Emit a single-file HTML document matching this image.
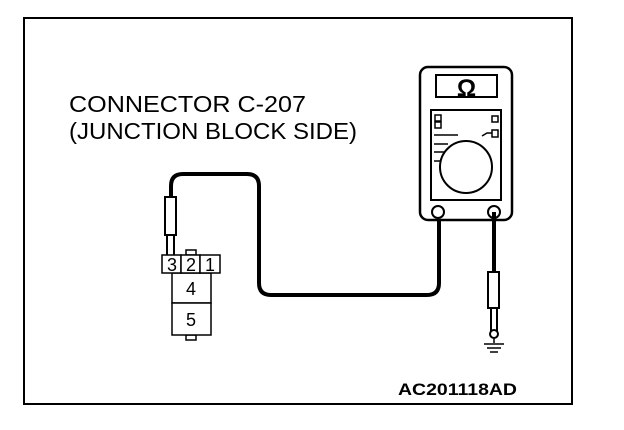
<!DOCTYPE html>
<html><head><style>
html,body{margin:0;padding:0;background:#fff;}
svg{display:block;}
</style></head><body>
<svg width="624" height="430" viewBox="0 0 624 430" xmlns="http://www.w3.org/2000/svg">
<rect x="24" y="18" width="548" height="386" fill="none" stroke="#000" stroke-width="2"/>
<g font-family="Liberation Sans, sans-serif" font-size="23" fill="#000">
<text x="69" y="112" textLength="237" lengthAdjust="spacingAndGlyphs">CONNECTOR C-207</text>
<text x="69" y="139" textLength="288" lengthAdjust="spacingAndGlyphs">(JUNCTION BLOCK SIDE)</text>
</g>
<text x="398" y="395" font-family="Liberation Sans, sans-serif" font-size="17" font-weight="bold" textLength="119" lengthAdjust="spacingAndGlyphs">AC201118AD</text>
<!-- wire -->
<path d="M171,198 L171,186 Q171,174 183,174 L247,174 Q259,174 259,186 L259,283 Q259,295 271,295 L427,295 Q439,295 439,283 L439,212" fill="none" stroke="#000" stroke-width="4"/>
<!-- left probe -->
<rect x="165" y="197" width="11" height="38" fill="#fff" stroke="#000" stroke-width="2"/>
<rect x="167" y="235" width="7" height="23" fill="#fff" stroke="#000" stroke-width="2"/>
<!-- connector -->
<g fill="#fff" stroke="#000" stroke-width="1.5">
<rect x="186" y="250" width="10" height="5"/>
<rect x="186" y="335" width="10" height="5"/>
<rect x="172" y="273" width="39" height="30"/>
<rect x="172" y="303" width="39" height="32"/>
<rect x="162" y="255" width="19" height="18"/>
<rect x="181" y="255" width="19" height="18"/>
<rect x="200" y="255" width="20" height="18"/>
</g>
<g font-family="Liberation Sans, sans-serif" font-size="18" text-anchor="middle">
<text x="172" y="271">3</text><text x="191" y="271">2</text><text x="210" y="271">1</text>
<text x="191" y="295">4</text><text x="191" y="326">5</text>
</g>
<!-- meter -->
<rect x="420" y="67" width="92" height="153" rx="8" fill="#fff" stroke="#000" stroke-width="2.5"/>
<rect x="436" y="75" width="61" height="22" fill="#fff" stroke="#000" stroke-width="2"/>
<text x="466.5" y="96" font-family="Liberation Sans, sans-serif" font-size="24" font-weight="bold" text-anchor="middle">Ω</text>
<rect x="431" y="110" width="70" height="90" fill="#fff" stroke="#000" stroke-width="2"/>
<rect x="435" y="115" width="6" height="6" fill="none" stroke="#000" stroke-width="1.5"/>
<rect x="435" y="122" width="6" height="6" fill="none" stroke="#000" stroke-width="1.5"/>
<rect x="492" y="116" width="6" height="6" fill="none" stroke="#000" stroke-width="1.5"/>
<rect x="492" y="130" width="6" height="7" fill="none" stroke="#000" stroke-width="1.5"/>
<path d="M434,135 H458 M434,144 H448 M434,152 H445 M434,161 H441 M482,136 L487,133 H492" stroke="#000" stroke-width="1.5" fill="none"/>
<circle cx="466" cy="167" r="26" fill="#fff" stroke="#000" stroke-width="2"/>
<circle cx="438" cy="212" r="6" fill="#fff" stroke="#000" stroke-width="2"/>
<circle cx="494" cy="212" r="6" fill="#fff" stroke="#000" stroke-width="2"/>
<!-- right lead -->
<line x1="494" y1="212" x2="494" y2="272" stroke="#000" stroke-width="4"/>
<rect x="488" y="272" width="11" height="36" fill="#fff" stroke="#000" stroke-width="2"/>
<rect x="491" y="308" width="6" height="23" fill="#fff" stroke="#000" stroke-width="2"/>
<circle cx="494" cy="334" r="4" fill="#fff" stroke="#000" stroke-width="2"/>
<line x1="494" y1="338" x2="494" y2="343" stroke="#000" stroke-width="1.5"/>
<path d="M484,344 H504 M487,348 H501 M490,352 H498" stroke="#000" stroke-width="1.5"/>
</svg>
</body></html>
